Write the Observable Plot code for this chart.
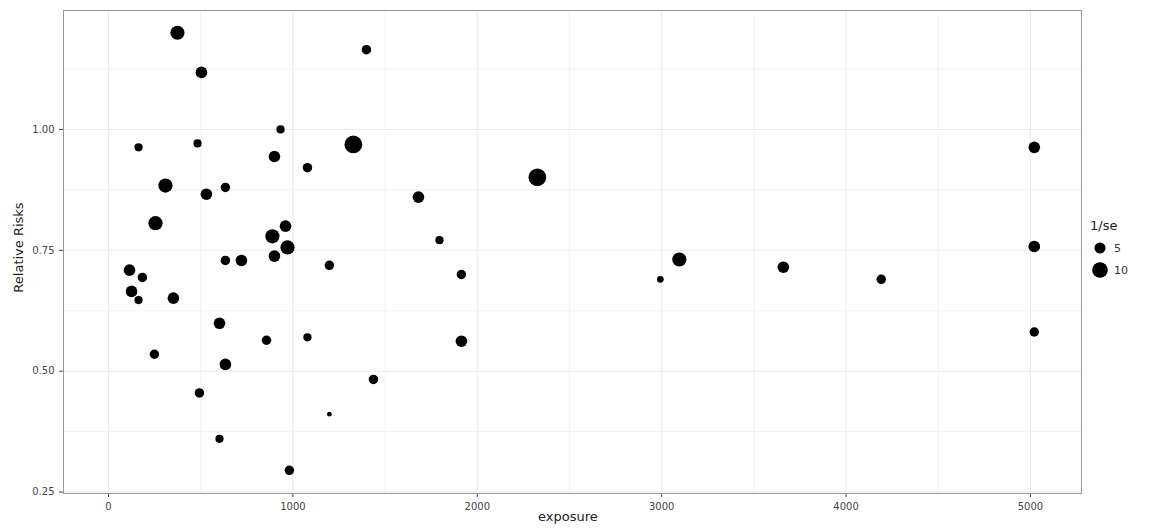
<!DOCTYPE html>
<html><head><meta charset="utf-8">
<script src="https://cdn.jsdelivr.net/npm/d3@7"></script>
<script src="https://cdn.jsdelivr.net/npm/@observablehq/plot@0.6"></script>
<style>
body{margin:0;background:#fff;font-family:"DejaVu Sans",sans-serif}
#wrap{position:relative;width:1151px;height:528px}
#legend{position:absolute;left:1090px;top:218px;font-size:13px;color:#222}
#legend .row{display:flex;align-items:center;height:22px;font-size:11px;color:#333}
#legend svg{margin-right:4px}
.axl{position:absolute;font-size:13px;color:#222}
</style></head><body>
<div id="wrap"><div id="chart"></div>
<div class="axl" style="left:538px;top:509px">exposure</div>
<div class="axl" style="left:-32px;top:240px;transform:rotate(-90deg);width:100px;text-align:center">Relative Risks</div>
<div id="legend"><div style="margin-bottom:4px">1/se</div>
<div class="row"><svg width="20" height="20"><circle cx="10" cy="10" r="5.5"/></svg>5</div>
<div class="row"><svg width="20" height="20"><circle cx="10" cy="10" r="7.8"/></svg>10</div>
</div></div>
<script>
const exposure = [374,504,1399,933,483,163,1328,900,1079,309,634,531,1681,2326,255,960,889,971,900,1795,721,634,1198,114,184,125,163,352,1914,2993,3096,3660,4191,5021,5021,5021,602,1079,857,1914,249,634,1437,493,1198,602,981];
const rr = [1.20,1.118,1.165,1.00,0.971,0.963,0.969,0.944,0.921,0.884,0.880,0.866,0.860,0.901,0.806,0.800,0.779,0.756,0.738,0.771,0.729,0.729,0.719,0.709,0.694,0.665,0.647,0.651,0.700,0.690,0.731,0.715,0.690,0.963,0.758,0.581,0.599,0.570,0.564,0.562,0.535,0.514,0.483,0.455,0.411,0.360,0.295];
const invSe = [9,6,4,3,3,3,14,6,4,9,4,6,6,14,9,6,9,9,6,3,6,4,4,6,4,6,3,6,4,2,9,6,4,6,6,4,6,3,4,6,4,6,4,4,1,3,4];
const data = exposure.map((e,i)=>({exposure:e, rr:rr[i], w:invSe[i]}));
const xMajor=[0,1000,2000,3000,4000,5000], xMinor=[500,1500,2500,3500,4500];
const yMajor=[0.25,0.5,0.75,1.0], yMinor=[0.375,0.625,0.875,1.125];
const chart = Plot.plot({
  width:1151, height:528,
  marginLeft:63, marginRight:70, marginTop:10, marginBottom:35,
  x:{domain:[-244,5277], ticks:xMajor, tickFormat:d3.format("d"), label:null, tickSize:4},
  y:{domain:[0.247,1.246], ticks:yMajor, tickFormat:d3.format(".2f"), label:null, tickSize:4},
  r:{type:"sqrt", domain:[0,10], range:[0,7.5]},
  style:{fontFamily:"DejaVu Sans", fontSize:"10px", color:"#444"},
  marks:[
    Plot.ruleX(xMinor,{stroke:"#ebebeb", strokeWidth:0.6}),
    Plot.ruleY(yMinor,{stroke:"#ebebeb", strokeWidth:0.6}),
    Plot.ruleX(xMajor,{stroke:"#ebebeb", strokeWidth:1.1}),
    Plot.ruleY(yMajor,{stroke:"#ebebeb", strokeWidth:1.1}),
    Plot.frame({stroke:"#999"}),
    Plot.dot(data,{x:"exposure", y:"rr", r:"w", fill:"black"})
  ]
});
document.getElementById("chart").append(chart);
</script></body></html>
